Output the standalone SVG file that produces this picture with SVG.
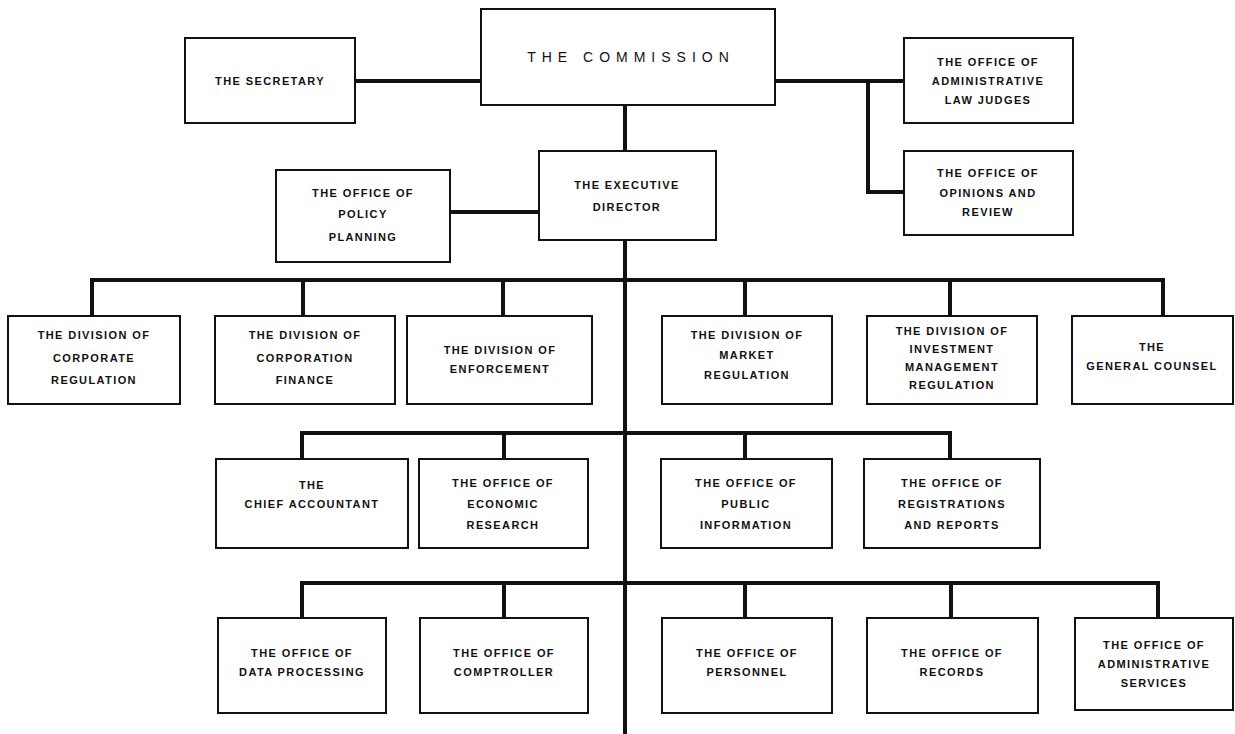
<svg xmlns="http://www.w3.org/2000/svg" width="1235" height="734" viewBox="0 0 1235 734">
<style>
.box{fill:#fff;stroke:#111;stroke-width:2}
.t{font-family:"Liberation Sans",Arial,sans-serif;font-size:11px;font-weight:bold;letter-spacing:1.4px;fill:#111;text-anchor:middle;dominant-baseline:central}
.big{font-family:"Liberation Sans",Arial,sans-serif;font-size:14px;letter-spacing:6px;fill:#111;text-anchor:middle;dominant-baseline:central}
.c{fill:none;stroke:#111;stroke-width:4;stroke-linecap:square;stroke-linejoin:miter}
</style>
<rect width="1235" height="734" fill="#fff"/>
<g id="connectors">
<path class="c" d="M625 105V732"/>
<path class="c" d="M355 81H481"/>
<path class="c" d="M775 81H904"/>
<path class="c" d="M868 81V192H904"/>
<path class="c" d="M450 212H539"/>
<path class="c" d="M92 316V280H1163V316"/>
<path class="c" d="M303 280V316M503 280V316M745 280V316M950 280V316"/>
<path class="c" d="M302 459V433H950V459"/>
<path class="c" d="M504 433V459M745 433V459"/>
<path class="c" d="M302 618V583H1158V618"/>
<path class="c" d="M504 583V618M745 583V618M951 583V618"/>
</g>
<g id="commission"><rect class="box" x="481" y="9" width="294" height="96"/><text class="big" x="631" y="57">THE COMMISSION</text></g>
<g id="secretary"><rect class="box" x="185" y="38" width="170" height="85"/><text class="t" x="270" y="81">THE SECRETARY</text></g>
<g id="alj"><rect class="box" x="904" y="38" width="169" height="85"/><text class="t" x="988" y="62">THE OFFICE OF</text><text class="t" x="988" y="81">ADMINISTRATIVE</text><text class="t" x="988" y="100">LAW JUDGES</text></g>
<g id="opinions"><rect class="box" x="904" y="151" width="169" height="84"/><text class="t" x="988" y="173">THE OFFICE OF</text><text class="t" x="988" y="193">OPINIONS AND</text><text class="t" x="988" y="212">REVIEW</text></g>
<g id="executive"><rect class="box" x="539" y="151" width="177" height="89"/><text class="t" x="627" y="185">THE EXECUTIVE</text><text class="t" x="627" y="207">DIRECTOR</text></g>
<g id="policy"><rect class="box" x="276" y="170" width="174" height="92"/><text class="t" x="363" y="193">THE OFFICE OF</text><text class="t" x="363" y="214">POLICY</text><text class="t" x="363" y="237">PLANNING</text></g>
<g id="corpreg"><rect class="box" x="8" y="316" width="172" height="88"/><text class="t" x="94" y="335">THE DIVISION OF</text><text class="t" x="94" y="358">CORPORATE</text><text class="t" x="94" y="380">REGULATION</text></g>
<g id="corpfin"><rect class="box" x="215" y="316" width="180" height="88"/><text class="t" x="305" y="335">THE DIVISION OF</text><text class="t" x="305" y="358">CORPORATION</text><text class="t" x="305" y="380">FINANCE</text></g>
<g id="enforcement"><rect class="box" x="407" y="316" width="185" height="88"/><text class="t" x="500" y="350">THE DIVISION OF</text><text class="t" x="500" y="369">ENFORCEMENT</text></g>
<g id="market"><rect class="box" x="662" y="316" width="170" height="88"/><text class="t" x="747" y="335">THE DIVISION OF</text><text class="t" x="747" y="355">MARKET</text><text class="t" x="747" y="375">REGULATION</text></g>
<g id="investment"><rect class="box" x="867" y="316" width="170" height="88"/><text class="t" x="952" y="331">THE DIVISION OF</text><text class="t" x="952" y="349">INVESTMENT</text><text class="t" x="952" y="367">MANAGEMENT</text><text class="t" x="952" y="385">REGULATION</text></g>
<g id="counsel"><rect class="box" x="1072" y="316" width="161" height="88"/><text class="t" x="1152" y="347">THE</text><text class="t" x="1152" y="366">GENERAL COUNSEL</text></g>
<g id="chiefacct"><rect class="box" x="216" y="459" width="192" height="89"/><text class="t" x="312" y="485">THE</text><text class="t" x="312" y="504">CHIEF ACCOUNTANT</text></g>
<g id="econ"><rect class="box" x="419" y="459" width="169" height="89"/><text class="t" x="503" y="483">THE OFFICE OF</text><text class="t" x="503" y="504">ECONOMIC</text><text class="t" x="503" y="525">RESEARCH</text></g>
<g id="public"><rect class="box" x="661" y="459" width="171" height="89"/><text class="t" x="746" y="483">THE OFFICE OF</text><text class="t" x="746" y="504">PUBLIC</text><text class="t" x="746" y="525">INFORMATION</text></g>
<g id="registrations"><rect class="box" x="864" y="459" width="176" height="89"/><text class="t" x="952" y="483">THE OFFICE OF</text><text class="t" x="952" y="504">REGISTRATIONS</text><text class="t" x="952" y="525">AND REPORTS</text></g>
<g id="dataproc"><rect class="box" x="218" y="618" width="168" height="95"/><text class="t" x="302" y="653">THE OFFICE OF</text><text class="t" x="302" y="672">DATA PROCESSING</text></g>
<g id="comptroller"><rect class="box" x="420" y="618" width="168" height="95"/><text class="t" x="504" y="653">THE OFFICE OF</text><text class="t" x="504" y="672">COMPTROLLER</text></g>
<g id="personnel"><rect class="box" x="662" y="618" width="170" height="95"/><text class="t" x="747" y="653">THE OFFICE OF</text><text class="t" x="747" y="672">PERSONNEL</text></g>
<g id="records"><rect class="box" x="867" y="618" width="171" height="95"/><text class="t" x="952" y="653">THE OFFICE OF</text><text class="t" x="952" y="672">RECORDS</text></g>
<g id="adminserv"><rect class="box" x="1075" y="618" width="158" height="92"/><text class="t" x="1154" y="645">THE OFFICE OF</text><text class="t" x="1154" y="664">ADMINISTRATIVE</text><text class="t" x="1154" y="683">SERVICES</text></g>
</svg>
